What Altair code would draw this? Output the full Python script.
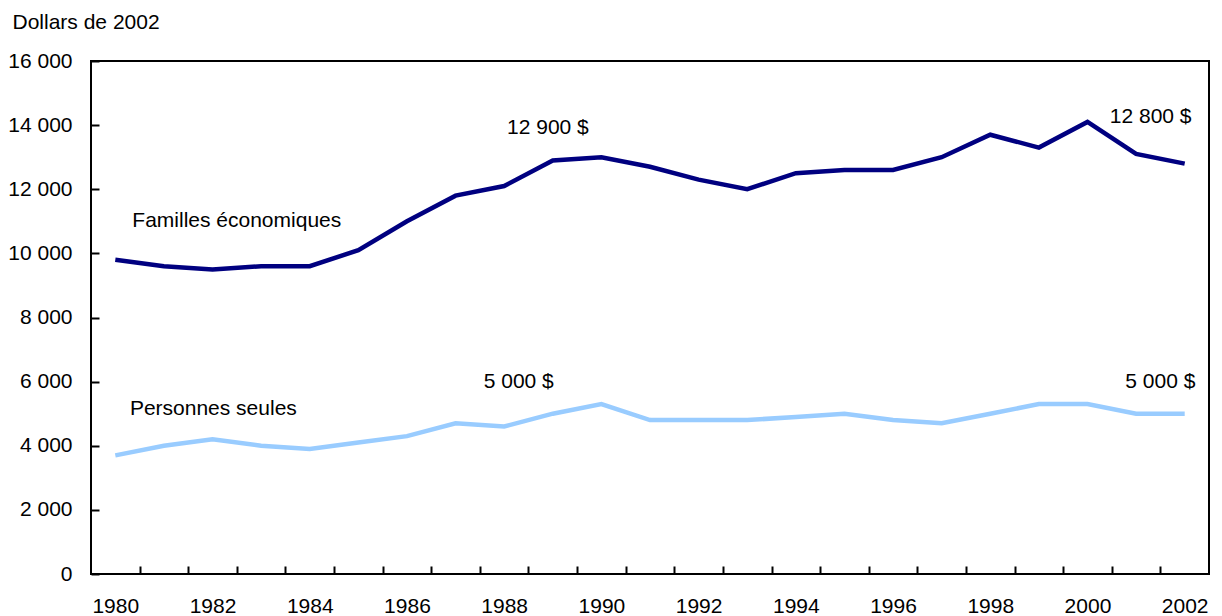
import altair as alt
import pandas as pd

# ---- data ----
years = list(range(1980, 2003))
familles = [9800, 9600, 9500, 9600, 9600, 10100, 11000, 11800, 12100, 12900, 13000, 12700,
            12300, 12000, 12500, 12600, 12600, 13000, 13700, 13300, 14100, 13100, 12800]
personnes = [3700, 4000, 4200, 4000, 3900, 4100, 4300, 4700, 4600, 5000, 5300, 4800,
             4800, 4800, 4900, 5000, 4800, 4700, 5000, 5300, 5300, 5000, 5000]
series_names = ["Familles économiques", "Personnes seules"]
series_colors = ["#000080", "#99CCFF"]

x_tick_values = [y + 0.5 for y in range(1980, 2002)]
x_label_values = list(range(1980, 2003, 2))
y_tick_values = list(range(0, 16001, 2000))

value_label_text = ["12 900 $", "12 800 $", "5 000 $", "5 000 $"]
value_label_year = [1988.9, 2001.3, 1988.3, 2001.5]
value_label_y = [13910, 14250, 5990, 5990]

series_label_year = [1980.35, 1980.3]
series_label_y = [11010, 5150]

y_title = "Dollars de 2002"

# ---- tables ----
lines_df = pd.DataFrame({
    "year": years * 2,
    "value": familles + personnes,
    "series": [series_names[0]] * len(years) + [series_names[1]] * len(years),
})
vlabels_df = pd.DataFrame({"year": value_label_year, "value": value_label_y, "text": value_label_text})
slabels_df = pd.DataFrame({"year": series_label_year, "value": series_label_y, "text": series_names})

FONT = "Liberation Sans"
FS = 21

x_scale = alt.Scale(domain=[1979.5, 2002.5], nice=False, zero=False)
y_scale = alt.Scale(domain=[0, 16000], nice=False)

# labels-only x axis (even years)
x_axis_labels = alt.Axis(
    values=x_label_values, format="d", orient="bottom",
    ticks=False, domain=False, grid=False, title=None,
    labelFlush=False, labelOverlap=False, labelPadding=21,
    labelFont=FONT, labelFontSize=FS, labelColor="black",
)
# ticks-only x axis (between years, pointing inward)
x_axis_ticks = alt.Axis(
    values=x_tick_values, orient="bottom",
    labels=False, domain=False, grid=False, title=None,
    offset=-8, tickSize=8, tickWidth=2, tickColor="black",
)
y_axis = alt.Axis(
    values=y_tick_values,
    labelExpr="replace(format(datum.value, ','), ',', ' ')",
    offset=-8, tickSize=8, tickWidth=2, tickColor="black",
    domain=False, grid=False, labelOverlap=False,
    labelPadding=19, labelFont=FONT, labelFontSize=FS, labelColor="black",
    title=y_title, titleAngle=0, titleAlign="left", titleBaseline="alphabetic",
    titleX=-87, titleY=-33, titleFont=FONT, titleFontSize=FS, titleFontWeight="normal",
    titleColor="black",
)

lines = alt.Chart(lines_df).mark_line(strokeWidth=4.5).encode(
    x=alt.X("year:Q", scale=x_scale, axis=x_axis_labels),
    y=alt.Y("value:Q", scale=y_scale, axis=y_axis),
    color=alt.Color("series:N", scale=alt.Scale(domain=series_names, range=series_colors), legend=None),
)

vlabels = alt.Chart(vlabels_df).mark_text(
    font=FONT, fontSize=FS, color="black", align="center", baseline="middle"
).encode(
    x=alt.X("year:Q", scale=x_scale, axis=x_axis_ticks),
    y=alt.Y("value:Q", scale=y_scale),
    text="text:N",
)

slabels = alt.Chart(slabels_df).mark_text(
    font=FONT, fontSize=FS, color="black", align="left", baseline="middle"
).encode(
    x=alt.X("year:Q", scale=x_scale, axis=None),
    y=alt.Y("value:Q", scale=y_scale),
    text="text:N",
)

chart = alt.layer(lines, vlabels, slabels).resolve_axis(x="independent").properties(
    width=1118, height=513,
    autosize="none",
    padding={"left": 83, "top": 53, "right": 5, "bottom": 42},
).configure_view(
    stroke="black", strokeWidth=2
)

chart.save("out.html", embed_options={"renderer": "svg", "actions": False})
